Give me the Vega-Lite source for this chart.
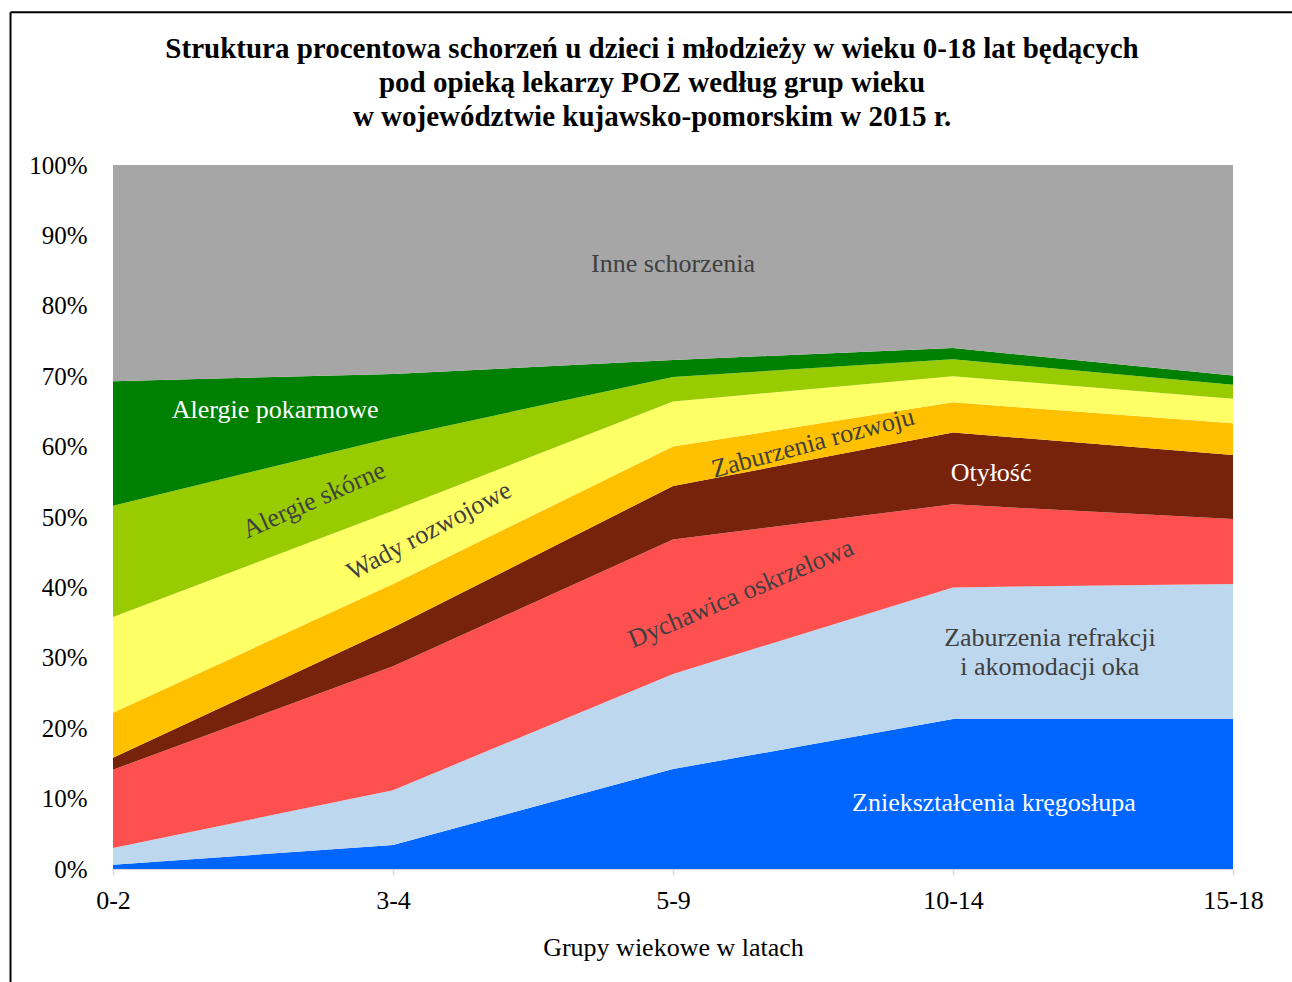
{
  "$schema": "https://vega.github.io/schema/vega-lite/v6.json",
  "width": 1120,
  "height": 704,
  "autosize": "none",
  "padding": {"left": 113, "top": 165, "right": 59, "bottom": 113},
  "background": "white",
  "title": {
    "text": ["Struktura procentowa schorzeń u dzieci i młodzieży w wieku 0-18 lat będących", "pod opieką lekarzy POZ według grup wieku", "w województwie kujawsko-pomorskim w 2015 r."],
    "font": "Liberation Serif",
    "fontSize": 29,
    "fontWeight": "bold",
    "color": "#000000",
    "lineHeight": 34,
    "anchor": "middle",
    "dx": -21,
    "offset": -121
  },
  "config": {
    "view": {"stroke": null},
    "text": {"font": "Liberation Serif", "fontSize": 26}
  },
  "layer": [
    {
      "data": {
        "values": [
          {"pos": 0, "cat": "Zniekształcenia kręgosłupa", "ord": 1, "value": 0.6},
          {"pos": 1, "cat": "Zniekształcenia kręgosłupa", "ord": 1, "value": 3.4},
          {"pos": 2, "cat": "Zniekształcenia kręgosłupa", "ord": 1, "value": 14.2},
          {"pos": 3, "cat": "Zniekształcenia kręgosłupa", "ord": 1, "value": 21.3},
          {"pos": 4, "cat": "Zniekształcenia kręgosłupa", "ord": 1, "value": 21.3},
          {"pos": 0, "cat": "Zaburzenia refrakcji i akomodacji oka", "ord": 2, "value": 2.4},
          {"pos": 1, "cat": "Zaburzenia refrakcji i akomodacji oka", "ord": 2, "value": 7.8},
          {"pos": 2, "cat": "Zaburzenia refrakcji i akomodacji oka", "ord": 2, "value": 13.5},
          {"pos": 3, "cat": "Zaburzenia refrakcji i akomodacji oka", "ord": 2, "value": 18.7},
          {"pos": 4, "cat": "Zaburzenia refrakcji i akomodacji oka", "ord": 2, "value": 19.2},
          {"pos": 0, "cat": "Dychawica oskrzelowa", "ord": 3, "value": 11.1},
          {"pos": 1, "cat": "Dychawica oskrzelowa", "ord": 3, "value": 17.6},
          {"pos": 2, "cat": "Dychawica oskrzelowa", "ord": 3, "value": 19.1},
          {"pos": 3, "cat": "Dychawica oskrzelowa", "ord": 3, "value": 11.8},
          {"pos": 4, "cat": "Dychawica oskrzelowa", "ord": 3, "value": 9.2},
          {"pos": 0, "cat": "Otyłość", "ord": 4, "value": 1.7},
          {"pos": 1, "cat": "Otyłość", "ord": 4, "value": 5.5},
          {"pos": 2, "cat": "Otyłość", "ord": 4, "value": 7.6},
          {"pos": 3, "cat": "Otyłość", "ord": 4, "value": 10.2},
          {"pos": 4, "cat": "Otyłość", "ord": 4, "value": 9.1},
          {"pos": 0, "cat": "Zaburzenia rozwoju", "ord": 5, "value": 6.4},
          {"pos": 1, "cat": "Zaburzenia rozwoju", "ord": 5, "value": 6.2},
          {"pos": 2, "cat": "Zaburzenia rozwoju", "ord": 5, "value": 5.6},
          {"pos": 3, "cat": "Zaburzenia rozwoju", "ord": 5, "value": 4.3},
          {"pos": 4, "cat": "Zaburzenia rozwoju", "ord": 5, "value": 4.5},
          {"pos": 0, "cat": "Wady rozwojowe", "ord": 6, "value": 13.6},
          {"pos": 1, "cat": "Wady rozwojowe", "ord": 6, "value": 10.4},
          {"pos": 2, "cat": "Wady rozwojowe", "ord": 6, "value": 6.4},
          {"pos": 3, "cat": "Wady rozwojowe", "ord": 6, "value": 3.7},
          {"pos": 4, "cat": "Wady rozwojowe", "ord": 6, "value": 3.5},
          {"pos": 0, "cat": "Alergie skórne", "ord": 7, "value": 15.8},
          {"pos": 1, "cat": "Alergie skórne", "ord": 7, "value": 10.4},
          {"pos": 2, "cat": "Alergie skórne", "ord": 7, "value": 3.5},
          {"pos": 3, "cat": "Alergie skórne", "ord": 7, "value": 2.4},
          {"pos": 4, "cat": "Alergie skórne", "ord": 7, "value": 2.0},
          {"pos": 0, "cat": "Alergie pokarmowe", "ord": 8, "value": 17.7},
          {"pos": 1, "cat": "Alergie pokarmowe", "ord": 8, "value": 9.0},
          {"pos": 2, "cat": "Alergie pokarmowe", "ord": 8, "value": 2.4},
          {"pos": 3, "cat": "Alergie pokarmowe", "ord": 8, "value": 1.6},
          {"pos": 4, "cat": "Alergie pokarmowe", "ord": 8, "value": 1.3},
          {"pos": 0, "cat": "Inne schorzenia", "ord": 9, "value": 30.7},
          {"pos": 1, "cat": "Inne schorzenia", "ord": 9, "value": 29.7},
          {"pos": 2, "cat": "Inne schorzenia", "ord": 9, "value": 27.7},
          {"pos": 3, "cat": "Inne schorzenia", "ord": 9, "value": 26.0},
          {"pos": 4, "cat": "Inne schorzenia", "ord": 9, "value": 29.9}
        ]
      },
      "mark": {"type": "area", "interpolate": "linear"},
      "encoding": {
        "x": {
          "field": "pos",
          "type": "quantitative",
          "title": "Grupy wiekowe w latach",
          "scale": {"domain": [0, 4], "nice": false, "zero": false},
          "axis": {
            "titleFont": "Liberation Serif",
            "titleFontSize": 26,
            "titleFontWeight": "normal",
            "titleColor": "#000000",
            "titlePadding": 21,
            "values": [0, 1, 2, 3, 4],
            "labelExpr": "['0-2','3-4','5-9','10-14','15-18'][datum.value]",
            "labelFont": "Liberation Serif",
            "labelFontSize": 26,
            "labelColor": "#000000",
            "labelPadding": 12,
            "labelFlush": false,
            "labelOverlap": false,
            "domainColor": "#D9D9D9",
            "domainWidth": 1.5,
            "tickColor": "#D9D9D9",
            "tickWidth": 1.5,
            "tickSize": 6,
            "grid": false
          }
        },
        "y": {
          "field": "value",
          "type": "quantitative",
          "title": null,
          "stack": "zero",
          "scale": {"domain": [0, 100], "nice": false},
          "axis": {
            "values": [0, 10, 20, 30, 40, 50, 60, 70, 80, 90, 100],
            "labelExpr": "datum.value + '%'",
            "labelFont": "Liberation Serif",
            "labelFontSize": 25,
            "labelColor": "#000000",
            "labelPadding": 26,
            "ticks": false,
            "domain": false,
            "grid": false
          }
        },
        "color": {
          "field": "cat",
          "type": "nominal",
          "legend": null,
          "scale": {
            "domain": ["Zniekształcenia kręgosłupa", "Zaburzenia refrakcji i akomodacji oka", "Dychawica oskrzelowa", "Otyłość", "Zaburzenia rozwoju", "Wady rozwojowe", "Alergie skórne", "Alergie pokarmowe", "Inne schorzenia"],
            "range": ["#0066FF", "#BDD7EE", "#FF5050", "#77220A", "#FFC000", "#FFFF66", "#99CC00", "#008000", "#A6A6A6"]
          }
        },
        "order": {"field": "ord", "type": "quantitative", "sort": "ascending"}
      }
    },
    {
      "data": {"values": [{}]},
      "mark": {"type": "rule", "color": "#000000", "strokeWidth": 2},
      "encoding": {
        "x": {"datum": -0.366, "type": "quantitative", "title": "Grupy wiekowe w latach"},
        "x2": {"datum": 4.3},
        "y": {"datum": 121.7, "type": "quantitative", "title": null}
      }
    },
    {
      "data": {"values": [{}]},
      "mark": {"type": "rule", "color": "#000000", "strokeWidth": 2},
      "encoding": {
        "x": {"datum": -0.366, "type": "quantitative", "title": "Grupy wiekowe w latach"},
        "y": {"datum": 121.7, "type": "quantitative", "title": null},
        "y2": {"datum": -17}
      }
    },
    {
      "data": {
        "values": [
          {"label": "Inne schorzenia", "pos": 2.0, "value": 85.9}
        ]
      },
      "mark": {"type": "text", "color": "#404040", "align": "center", "baseline": "middle"},
      "encoding": {
        "x": {"field": "pos", "type": "quantitative", "title": "Grupy wiekowe w latach"},
        "y": {"field": "value", "type": "quantitative", "title": null},
        "text": {"field": "label"}
      }
    },
    {
      "data": {"values": [{"label": "Alergie pokarmowe", "pos": 0.579, "value": 65.2}]},
      "mark": {"type": "text", "color": "#FFFFFF", "align": "center", "baseline": "middle"},
      "encoding": {
        "x": {"field": "pos", "type": "quantitative", "title": "Grupy wiekowe w latach"},
        "y": {"field": "value", "type": "quantitative", "title": null},
        "text": {"field": "label"}
      }
    },
    {
      "data": {"values": [{"label": "Alergie skórne", "pos": 0.718, "value": 52.4}]},
      "mark": {"type": "text", "color": "#404040", "align": "center", "baseline": "middle", "angle": 336},
      "encoding": {
        "x": {"field": "pos", "type": "quantitative", "title": "Grupy wiekowe w latach"},
        "y": {"field": "value", "type": "quantitative", "title": null},
        "text": {"field": "label"}
      }
    },
    {
      "data": {"values": [{"label": "Wady rozwojowe", "pos": 1.129, "value": 48.0}]},
      "mark": {"type": "text", "color": "#404040", "align": "center", "baseline": "middle", "angle": 332},
      "encoding": {
        "x": {"field": "pos", "type": "quantitative", "title": "Grupy wiekowe w latach"},
        "y": {"field": "value", "type": "quantitative", "title": null},
        "text": {"field": "label"}
      }
    },
    {
      "data": {"values": [{"label": "Zaburzenia rozwoju", "pos": 2.5, "value": 60.5}]},
      "mark": {"type": "text", "color": "#404040", "align": "center", "baseline": "middle", "angle": 345},
      "encoding": {
        "x": {"field": "pos", "type": "quantitative", "title": "Grupy wiekowe w latach"},
        "y": {"field": "value", "type": "quantitative", "title": null},
        "text": {"field": "label"}
      }
    },
    {
      "data": {"values": [{"label": "Otyłość", "pos": 3.136, "value": 56.25}]},
      "mark": {"type": "text", "color": "#FFFFFF", "align": "center", "baseline": "middle"},
      "encoding": {
        "x": {"field": "pos", "type": "quantitative", "title": "Grupy wiekowe w latach"},
        "y": {"field": "value", "type": "quantitative", "title": null},
        "text": {"field": "label"}
      }
    },
    {
      "data": {"values": [{"label": "Dychawica oskrzelowa", "pos": 2.243, "value": 39.1}]},
      "mark": {"type": "text", "color": "#404040", "align": "center", "baseline": "middle", "angle": 337},
      "encoding": {
        "x": {"field": "pos", "type": "quantitative", "title": "Grupy wiekowe w latach"},
        "y": {"field": "value", "type": "quantitative", "title": null},
        "text": {"field": "label"}
      }
    },
    {
      "data": {"values": [{"label": "Zaburzenia refrakcji\ni akomodacji oka", "pos": 3.346, "value": 32.8}]},
      "mark": {"type": "text", "color": "#404040", "align": "center", "baseline": "middle", "lineBreak": "\n", "lineHeight": 29},
      "encoding": {
        "x": {"field": "pos", "type": "quantitative", "title": "Grupy wiekowe w latach"},
        "y": {"field": "value", "type": "quantitative", "title": null},
        "text": {"field": "label"}
      }
    },
    {
      "data": {"values": [{"label": "Zniekształcenia kręgosłupa", "pos": 3.146, "value": 9.4}]},
      "mark": {"type": "text", "color": "#FFFFFF", "align": "center", "baseline": "middle"},
      "encoding": {
        "x": {"field": "pos", "type": "quantitative", "title": "Grupy wiekowe w latach"},
        "y": {"field": "value", "type": "quantitative", "title": null},
        "text": {"field": "label"}
      }
    }
  ]
}
